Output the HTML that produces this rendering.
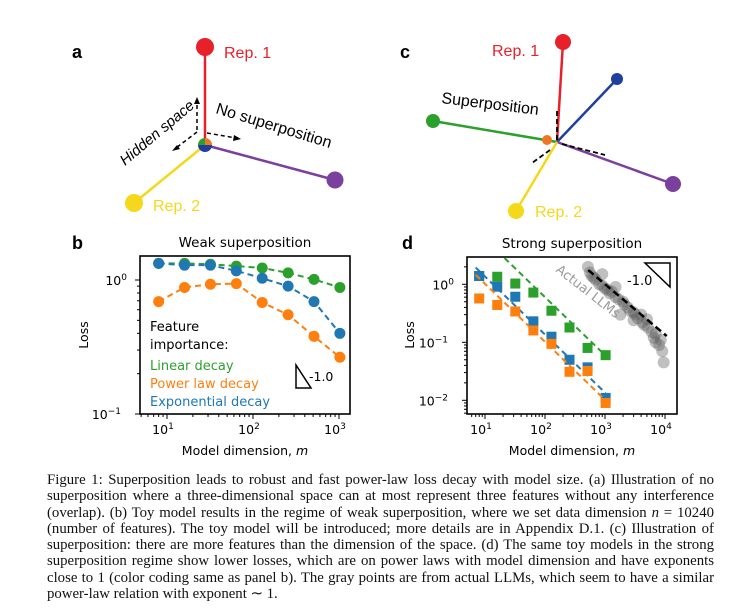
<!DOCTYPE html>
<html><head><meta charset="utf-8"><style>
body{margin:0;background:#fff;width:755px;height:615px;overflow:hidden;position:relative}
svg{position:absolute;left:0;top:0}
.cap{position:absolute;left:47px;top:472px;width:667px;font-family:"Liberation Serif",serif;font-size:14.8px;line-height:16.3px;color:#111}
.cap span{display:block;text-align:justify;text-align-last:justify;white-space:nowrap}
.cap span.last{text-align-last:left}
</style></head><body>
<svg id="fig" width="755" height="615" font-family="DejaVu Sans, Liberation Sans, sans-serif">
<g>
<text x="72" y="58" font-size="18" font-weight="bold" font-family="Liberation Sans, sans-serif">a</text>
<line x1="205" y1="145" x2="205" y2="47" stroke="#e8202a" stroke-width="2.5"/>
<line x1="205" y1="145" x2="134" y2="203" stroke="#f5d81c" stroke-width="2.5"/>
<line x1="205" y1="145" x2="335" y2="180" stroke="#7b3f9e" stroke-width="2.5"/>
<g stroke="#000" stroke-width="1.5" stroke-dasharray="4,3" fill="none">
<line x1="197" y1="130" x2="197" y2="102"/><line x1="197" y1="132" x2="176" y2="148"/><line x1="207" y1="133" x2="236" y2="138"/></g>
<polygon points="197,97 194,104 200,104" fill="#000"/><polygon points="172,151 177,145 180,149" fill="#000"/><polygon points="241,139 234,135 233,141" fill="#000"/>
<circle cx="205" cy="47" r="9" fill="#e8202a"/>
<circle cx="134" cy="203" r="9" fill="#f5d81c"/>
<circle cx="335" cy="180" r="8.5" fill="#7b3f9e"/>
<path d="M205,145 L205,138 A7,7 0 0,0 198,145 Z" fill="#2ca02c"/><path d="M205,145 L212,145 A7,7 0 0,0 205,138 Z" fill="#ee7722"/><path d="M205,145 L198,145 A7,7 0 0,0 212,145 Z" fill="#1f3f9e"/>
<text x="224" y="58" font-size="16" fill="#e8202a" font-family="Liberation Sans, sans-serif">Rep. 1</text>
<text x="153" y="211" font-size="16" fill="#f5d81c" font-family="Liberation Sans, sans-serif">Rep. 2</text>
<text transform="translate(125,166) rotate(-40)" font-size="15" font-style="italic" font-family="Liberation Sans, sans-serif">Hidden space</text>
<text transform="translate(215,113) rotate(17)" font-size="16" font-family="Liberation Sans, sans-serif">No superposition</text>
</g>
<g>
<text x="400" y="58" font-size="18" font-weight="bold" font-family="Liberation Sans, sans-serif">c</text>
<line x1="557" y1="142" x2="563" y2="42" stroke="#e8202a" stroke-width="2.5"/>
<line x1="557" y1="142" x2="617" y2="79" stroke="#1f3f9e" stroke-width="2.5"/>
<line x1="557" y1="142" x2="433" y2="121" stroke="#2ca02c" stroke-width="2.5"/>
<line x1="557" y1="142" x2="673" y2="184" stroke="#7b3f9e" stroke-width="2.5"/>
<line x1="557" y1="142" x2="516" y2="211" stroke="#f5d81c" stroke-width="2.5"/>
<g stroke="#000" stroke-width="1.8" stroke-dasharray="5,3"><line x1="557" y1="140" x2="557" y2="108"/><line x1="562" y1="144" x2="605" y2="155"/><line x1="550" y1="150" x2="532" y2="163"/></g>
<circle cx="563" cy="42" r="8" fill="#e8202a"/><circle cx="617" cy="79" r="6" fill="#1f3f9e"/><circle cx="433" cy="121" r="7" fill="#2ca02c"/>
<circle cx="547" cy="140" r="5" fill="#ee7722"/><circle cx="673" cy="184" r="8" fill="#7b3f9e"/><circle cx="516" cy="211" r="8" fill="#f5d81c"/>
<text x="492" y="56" font-size="16" fill="#e8202a" font-family="Liberation Sans, sans-serif">Rep. 1</text>
<text x="535" y="217" font-size="16" fill="#f5d81c" font-family="Liberation Sans, sans-serif">Rep. 2</text>
<text transform="translate(441,103) rotate(7)" font-size="16" font-family="Liberation Sans, sans-serif">Superposition</text>
</g>
<g id="pb"></g>
<g id="pd"></g>
</svg>
<div class="cap">
<span>Figure 1: Superposition leads to robust and fast power-law loss decay with model size. (a) Illustration of no</span>
<span>superposition where a three-dimensional space can at most represent three features without any interference</span>
<span>(overlap). (b) Toy model results in the regime of weak superposition, where we set data dimension <i>n</i> = 10240</span>
<span>(number of features). The toy model will be introduced; more details are in Appendix D.1. (c) Illustration of</span>
<span>superposition: there are more features than the dimension of the space. (d) The same toy models in the strong</span>
<span>superposition regime show lower losses, which are on power laws with model dimension and have exponents</span>
<span>close to 1 (color coding same as panel b). The gray points are from actual LLMs, which seem to have a similar</span>
<span class="last">power-law relation with exponent ∼ 1.</span>
</div>
<script>
const dims=[8,16,32,64,128,256,512,1024];
const weakLinear=[1.33,1.33,1.31,1.27,1.23,1.13,1.01,0.88];
const weakExp=[1.33,1.29,1.29,1.17,1.03,0.90,0.69,0.40];
const weakPower=[0.69,0.88,0.93,0.94,0.68,0.55,0.38,0.265];
const strongLinear=[1.39,1.35,1.03,0.72,0.35,0.18,0.08,0.06];
const strongExp=[1.39,0.91,0.61,0.23,0.125,0.05,0.037,0.011];
const strongPower=[0.57,0.44,0.34,0.16,0.094,0.031,0.032,0.009];
const fitCoef=[60,13.6,10.2];
const llmM=[520,560,600,650,700,800,900,1000,1100,1200,1300,1500,1700,1800,2000,2100,2400,2600,3000,3200,3500,4000,4200,4500,5000,5200,6000,6500,7000,7000,8000,8500,9000,9500,3000,1500,900];
const llmLoss=[2.0,1.6,1.4,1.3,1.2,1.0,0.95,0.85,0.8,0.7,0.75,0.6,0.55,0.3,0.5,0.45,0.4,0.35,0.33,0.3,0.26,0.3,0.22,0.2,0.25,0.18,0.15,0.12,0.14,0.1,0.09,0.11,0.07,0.045,0.24,0.9,1.5];
const llmFit=[525,10700,1.76,0.128];
const C={g:'#2ca02c',o:'#ff7f0e',b:'#1f77b4'};
const NS='http://www.w3.org/2000/svg';
function mk(p,t,a,txt){const e=document.createElementNS(NS,t);for(const k in a)e.setAttribute(k,a[k]);if(txt!==undefined)e.textContent=txt;p.appendChild(e);return e;}
function axes(g,o){
 const X=m=>o.x10+(Math.log10(m)-1)*o.dx, Y=v=>o.y0-Math.log10(v)*o.dy;
 mk(g,'rect',{x:o.L,y:o.T,width:o.R-o.L,height:o.B-o.T,fill:'none',stroke:'#000','stroke-width':1.6});
 for(let d=0;d<=4;d++)for(let k=1;k<10;k++){const m=Math.pow(10,d)*k,x=X(m);if(x<o.L||x>o.R)continue;
  mk(g,'line',{x1:x,x2:x,y1:o.B,y2:o.B+(k==1?5:3),stroke:'#000','stroke-width':1});
  if(k==1){const t=mk(g,'text',{x:x-4,y:o.B+20,'font-size':12.5,'text-anchor':'middle'},'10');mk(t,'tspan',{dy:-5,'font-size':9},String(d));}}
 for(let d=-3;d<=1;d++)for(let k=1;k<10;k++){const v=Math.pow(10,d)*k,y=Y(v);if(y<o.T||y>o.B+0.5)continue;
  mk(g,'line',{x1:o.L,x2:o.L-(k==1?5:3),y1:y,y2:y,stroke:'#000','stroke-width':1});
  if(k==1){const t=mk(g,'text',{x:o.L-(d<0?19:13),y:y+5,'font-size':12.5,'text-anchor':'end'},'10');mk(t,'tspan',{dy:-5,'font-size':9},d==0?'0':'−'+(-d));}}
 mk(g,'text',{x:(o.L+o.R)/2,y:o.T-9,'font-size':13.5,'text-anchor':'middle'},o.title);
 const xl=mk(g,'text',{x:(o.L+o.R)/2,y:455,'font-size':12.5,'text-anchor':'middle'},'Model dimension, ');mk(xl,'tspan',{'font-style':'italic'},'m');
 mk(g,'text',{transform:`translate(${o.ly},335) rotate(-90)`,'font-size':12.5,'text-anchor':'middle'},'Loss');
 mk(g,'text',{x:o.lx,y:249,'font-size':18,'font-weight':'bold','font-family':'Liberation Sans, sans-serif'},o.letter);
 return [X,Y];
}
const gb=document.getElementById('pb');
const [Xb,Yb]=axes(gb,{L:140,R:350,T:256,B:414,x10:167,dx:86,y0:280,dy:134,title:'Weak superposition',ly:88,lx:72,letter:'b'});
[[weakLinear,C.g,'linear'],[weakExp,C.b,'exponential'],[weakPower,C.o,'power-law']].forEach(([vals,col,nm])=>{
 const pl=mk(gb,'polyline',{points:dims.map((m,i)=>Xb(m)+','+Yb(vals[i])).join(' '),fill:'none',stroke:col,'stroke-width':2,'stroke-dasharray':'6,4'});
 
 
 dims.forEach((m,i)=>{const c=mk(gb,'circle',{cx:Xb(m),cy:Yb(vals[i]),r:5.5,fill:col});
  
  });
});
[['Feature','#000',331],['importance:','#000',349],['Linear decay',C.g,370],['Power law decay',C.o,388],['Exponential decay',C.b,406]].forEach(([t,c,y])=>mk(gb,'text',{x:150,y:y,'font-size':13,fill:c},t));
mk(gb,'path',{d:'M296,365 L296,388 L311,388 Z',fill:'none',stroke:'#000','stroke-width':1.5});
mk(gb,'text',{x:309,y:381,'font-size':12.5},'-1.0');
const gd=document.getElementById('pd');
const [Xd,Yd]=axes(gd,{L:467,R:677,T:257,B:414,x10:485,dx:60,y0:284.3,dy:58,title:'Strong superposition',ly:414,lx:402,letter:'d'});
llmM.forEach((m,i)=>{const c=mk(gd,'circle',{cx:Xd(m),cy:Yd(llmLoss[i]),r:6,fill:'rgba(90,90,90,0.38)'});
 
 });
mk(gd,'line',{x1:Xd(llmFit[0]),y1:Yd(llmFit[2]),x2:Xd(llmFit[1]),y2:Yd(llmFit[3]),stroke:'#000','stroke-width':2.5,'stroke-dasharray':'7,4'});
mk(gd,'text',{transform:'translate(555,271) rotate(38)','font-size':13,fill:'#999'},'Actual LLMs');
const clip=mk(gd,'clipPath',{id:'cd'});mk(clip,'rect',{x:467,y:257,width:210,height:157});
[[strongLinear,C.g,'linear',fitCoef[0]],[strongExp,C.b,'exponential',fitCoef[1]],[strongPower,C.o,'power-law',fitCoef[2]]].forEach(([vals,col,nm,a])=>{
 const ln=mk(gd,'line',{x1:Xd(7),y1:Yd(a/7),x2:Xd(1024),y2:Yd(a/1024),stroke:col,'stroke-width':2,'stroke-dasharray':'6,4','clip-path':'url(#cd)'});
 
 
 dims.forEach((m,i)=>{const r=mk(gd,'rect',{x:Xd(m)-5,y:Yd(vals[i])-5,width:10,height:10,fill:col});
  
  });
});
mk(gd,'path',{d:'M645,263 L670,263 L670,287 Z',fill:'none',stroke:'#000','stroke-width':1.5});
mk(gd,'text',{x:627,y:285,'font-size':13},'-1.0');
</script>
</body></html>
